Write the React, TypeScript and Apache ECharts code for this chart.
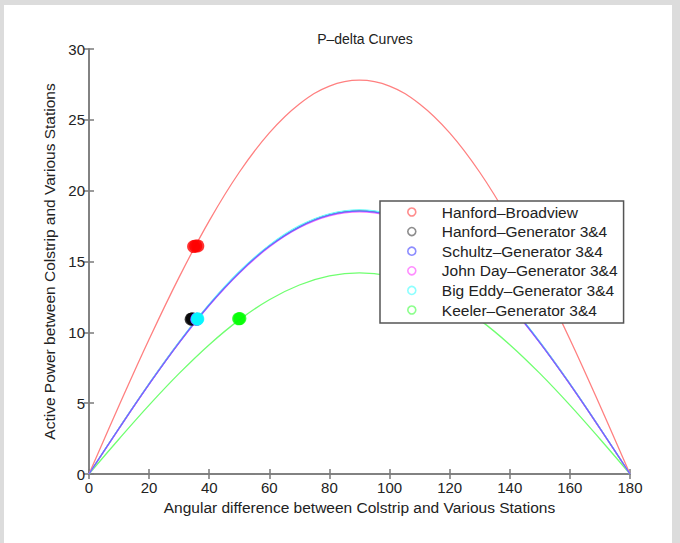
import React, { useEffect, useRef } from "react";
import * as echarts from "echarts";

// Angles (degrees) at which the curves were read
const angles = [0, 10, 20, 30, 40, 50, 60, 70, 80, 90, 100, 110, 120, 130, 140, 150, 160, 170, 180];

// Curve values
const hanfordBroadviewCurve = [0, 4.83, 9.51, 13.9, 17.87, 21.3, 24.08, 26.12, 27.38, 27.8, 27.38, 26.12, 24.08, 21.3, 17.87, 13.9, 9.51, 4.83, 0];
const hanfordGenCurve = [0, 3.23, 6.36, 9.3, 11.96, 14.25, 16.11, 17.48, 18.32, 18.6, 18.32, 17.48, 16.11, 14.25, 11.96, 9.3, 6.36, 3.23, 0];
const schultzGenCurve = [0, 3.22, 6.34, 9.28, 11.93, 14.21, 16.07, 17.43, 18.27, 18.55, 18.27, 17.43, 16.07, 14.21, 11.93, 9.28, 6.34, 3.22, 0];
const johnDayGenCurve = [0, 3.21, 6.33, 9.25, 11.89, 14.17, 16.02, 17.38, 18.22, 18.5, 18.22, 17.38, 16.02, 14.17, 11.89, 9.25, 6.33, 3.21, 0];
const bigEddyGenCurve = [0, 3.24, 6.38, 9.33, 11.99, 14.29, 16.15, 17.53, 18.37, 18.65, 18.37, 17.53, 16.15, 14.29, 11.99, 9.33, 6.38, 3.24, 0];
const keelerGenCurve = [0, 2.47, 4.86, 7.1, 9.13, 10.88, 12.3, 13.34, 13.98, 14.2, 13.98, 13.34, 12.3, 10.88, 9.13, 7.1, 4.86, 2.47, 0];

// Operating points: [angle, power]
const hanfordBroadviewPts = [[34.8, 16.05], [35.5, 16.1], [36.2, 16.1]];
const hanfordGenPts = [[34.0, 10.93], [34.4, 10.95]];
const schultzGenPts = [[35.8, 10.93]];
const johnDayGenPts = [[35.9, 10.93]];
const bigEddyGenPts = [[36.0, 10.93], [36.2, 10.95]];
const keelerGenPts = [[49.8, 10.95], [50.2, 10.97]];

const names = [
  "Hanford–Broadview",
  "Hanford–Generator 3&4",
  "Schultz–Generator 3&4",
  "John Day–Generator 3&4",
  "Big Eddy–Generator 3&4",
  "Keeler–Generator 3&4",
];

const dotColors = ["#ff0000", "#000000", "#0000ff", "#ff00ff", "#00ffff", "#00ff00"];
const lineColors = ["#ff8080", "#6f6f6f", "#6a6aff", "#ff66ff", "#66ffff", "#70ff70"];
const legendColors = ["#ff7070", "#707070", "#7070ff", "#ff70ff", "#70ffff", "#70ff70"];
const lineZ = [2, 2, 5, 4, 3, 2];

const FONT = "'Liberation Sans', Arial, Helvetica, sans-serif";

export default function App() {
  const ref = useRef<HTMLDivElement>(null);
  useEffect(() => {
    if (!ref.current) return;
    const chart = echarts.init(ref.current, undefined, { renderer: "svg" });
    const curves = [hanfordBroadviewCurve, hanfordGenCurve, schultzGenCurve, johnDayGenCurve, bigEddyGenCurve, keelerGenCurve];
    const pts = [hanfordBroadviewPts, hanfordGenPts, schultzGenPts, johnDayGenPts, bigEddyGenPts, keelerGenPts];
    const lineSeries = curves.map((c, i) => ({
      type: "line",
      name: "curve" + i,
      data: angles.map((a, k) => [a, c[k]]),
      smooth: 0.4,
      showSymbol: false,
      lineStyle: { color: lineColors[i], width: 1.3 },
      itemStyle: { color: lineColors[i] },
      z: lineZ[i],
    }));
    const dotSeries = pts.map((p, i) => ({
      type: "scatter",
      name: names[i],
      data: p,
      symbol: "circle",
      symbolSize: 13,
      itemStyle: { color: dotColors[i] },
      z: 10,
    }));
    const axisStyle = { color: "#7a7a7a", width: 1.5 };
    chart.setOption({
      animation: false,
      backgroundColor: "#dcdcdc",
      textStyle: { fontFamily: FONT },
      graphic: [
        { type: "rect", shape: { x: 4, y: 5, width: 668, height: 540 }, style: { fill: "#ffffff" }, z: -10 },
      ],
      title: {
        text: "P–delta Curves",
        left: 360,
        top: 27,
        textAlign: "center",
        textStyle: { fontFamily: FONT, fontSize: 14, fontWeight: "normal", color: "#222" },
      },
      grid: { left: 89, right: 50, top: 49, bottom: 69, containLabel: false },
      legend: {
        data: names.map((n, i) => ({
          name: n,
          icon: "circle",
          itemStyle: { color: "transparent", borderColor: legendColors[i], borderWidth: 1.6 },
        })),
        orient: "vertical",
        left: 380,
        top: 201,
        z: 20,
        itemWidth: 50,
        itemHeight: 8,
        itemGap: 3.6,
        padding: [3, 6, 5, 27],
        backgroundColor: "#ffffff",
        borderColor: "#555",
        borderWidth: 1.5,
        textStyle: { fontFamily: FONT, fontSize: 15.5, color: "#222", lineHeight: 16 },
        selectedMode: false,
      },
      xAxis: [
        {
          type: "value",
          min: 0,
          max: 180,
          interval: 20,
          name: "Angular difference between Colstrip and Various Stations",
          nameLocation: "middle",
          nameGap: 25,
          nameTextStyle: { fontFamily: FONT, fontSize: 15.5, color: "#222" },
          axisLine: { show: true, lineStyle: axisStyle },
          axisTick: { show: true, inside: true, length: 5, lineStyle: axisStyle },
          axisLabel: { margin: 6, fontFamily: FONT, fontSize: 15, color: "#222" },
          splitLine: { show: false },
        },
        {
          type: "value",
          position: "top",
          min: 0,
          max: 180,
          interval: 20,
          axisLine: { show: true, lineStyle: axisStyle },
          axisTick: { show: true, inside: true, length: 5, lineStyle: axisStyle },
          axisLabel: { show: false },
          splitLine: { show: false },
        },
      ],
      yAxis: [
        {
          type: "value",
          min: 0,
          max: 30,
          interval: 5,
          name: "Active Power between Colstrip and Various Stations",
          nameLocation: "middle",
          nameGap: 26,
          nameTextStyle: { fontFamily: FONT, fontSize: 15.5, color: "#222" },
          axisLine: { show: true, lineStyle: axisStyle },
          axisTick: { show: true, inside: true, length: 5, lineStyle: axisStyle },
          axisLabel: { margin: 4, fontFamily: FONT, fontSize: 15, color: "#222" },
          splitLine: { show: false },
        },
        {
          type: "value",
          position: "right",
          min: 0,
          max: 30,
          interval: 5,
          axisLine: { show: true, lineStyle: axisStyle },
          axisTick: { show: true, inside: true, length: 5, lineStyle: axisStyle },
          axisLabel: { show: false },
          splitLine: { show: false },
        },
      ],
      series: [...lineSeries, ...dotSeries],
    });
    return () => chart.dispose();
  }, []);
  return (
    <div
      ref={ref}
      style={{ position: "absolute", left: 0, top: 0, width: 680, height: 543 }}
    />
  );
}
